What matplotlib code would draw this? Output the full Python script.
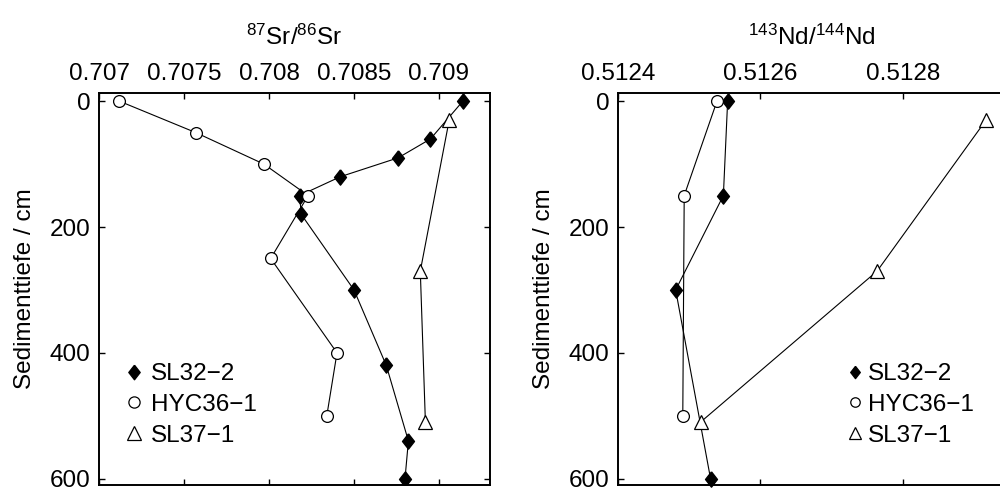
import matplotlib
matplotlib.use("Agg")
import matplotlib.pyplot as plt
from matplotlib.lines import Line2D
import numpy as np

plt.rcParams['font.family'] = ['Liberation Sans', 'DejaVu Sans']
plt.rcParams['mathtext.fontset'] = 'custom'
plt.rcParams['mathtext.rm'] = 'Liberation Sans'
plt.rcParams['mathtext.it'] = 'Liberation Sans'

# ---- data ----
series_names = ["SL32\u22122", "HYC36\u22121", "SL37\u22121"]

sl32_sr_depth = [0, 60, 90, 120, 150, 180, 300, 420, 540, 600]
sl32_sr = [0.70914, 0.70895, 0.70876, 0.70842, 0.70818, 0.70819, 0.70850, 0.70869, 0.70882, 0.70880]

hyc36_sr_depth = [0, 50, 100, 150, 250, 400, 500]
hyc36_sr = [0.70712, 0.70757, 0.70797, 0.70823, 0.70801, 0.70840, 0.70834]

sl37_sr_depth = [30, 270, 510]
sl37_sr = [0.70906, 0.70889, 0.70892]

sl32_nd_depth = [0, 150, 300, 600]
sl32_nd = [0.512554, 0.512548, 0.512481, 0.512530]

hyc36_nd_depth = [0, 150, 500]
hyc36_nd = [0.512539, 0.512493, 0.512491]

sl37_nd_depth = [30, 270, 510]
sl37_nd = [0.512917, 0.512764, 0.512516]

sr_ticks = [0.707, 0.7075, 0.708, 0.7085, 0.709]
sr_ticklabels = ["0.707", "0.7075", "0.708", "0.7085", "0.709"]
nd_ticks = [0.5124, 0.5126, 0.5128]
nd_ticklabels = ["0.5124", "0.5126", "0.5128"]
depth_ticks = [0, 200, 400, 600]

# ---- figure ----
W, H = 1000, 491
fig = plt.figure(figsize=(W / 100, H / 100), dpi=100)

def px_axes(x0, x1, y0, y1):
    return fig.add_axes([x0 / W, (H - y1) / H, (x1 - x0) / W, (y1 - y0) / H])

FS = 17.5
diamond = [(0, 1), (0.78, 0), (0, -1), (-0.78, 0), (0, 1)]
styles = [
    dict(marker=diamond, markersize=11, markerfacecolor='black', markeredgecolor='black'),
    dict(marker='o', markersize=8.5, markerfacecolor='white', markeredgecolor='black', markeredgewidth=0.9),
    dict(marker='^', markersize=10, markerfacecolor='white', markeredgecolor='black', markeredgewidth=0.9),
]

def style_axes(ax, xticks, xticklabels, xlim, title):
    ax.set_xlim(*xlim)
    ax.set_ylim(610, -13)
    ax.set_xticks(xticks)
    ax.set_xticklabels(xticklabels)
    ax.set_yticks(depth_ticks)
    ax.tick_params(axis='both', direction='in', length=4, width=1, labelsize=FS,
                   top=True, bottom=True, left=True, right=True,
                   labeltop=True, labelbottom=False, pad=6)
    for s in ax.spines.values():
        s.set_linewidth(1.4)
    ax.set_ylabel("Sedimenttiefe / cm", fontsize=FS, labelpad=10)
    ax.text(0.5, 1.122, title, transform=ax.transAxes, ha='center', va='baseline', fontsize=FS)

# left: Sr
ax1 = px_axes(99, 490, 93, 485)
sr_data = [(sl32_sr, sl32_sr_depth), (hyc36_sr, hyc36_sr_depth), (sl37_sr, sl37_sr_depth)]
for (xv, dv), st in zip(sr_data, styles):
    ax1.plot(xv, dv, color='black', linewidth=0.8, **st)
style_axes(ax1, sr_ticks, sr_ticklabels, (0.707, 0.7093), r'$^{87}$Sr/$^{86}$Sr')

# right: Nd
ax2 = px_axes(618, 1006, 93, 485)
nd_data = [(sl32_nd, sl32_nd_depth), (hyc36_nd, hyc36_nd_depth), (sl37_nd, sl37_nd_depth)]
for (xv, dv), st in zip(nd_data, styles):
    ax2.plot(xv, dv, color='black', linewidth=0.8, clip_on=False, **st)
style_axes(ax2, nd_ticks, nd_ticklabels, (0.5124, 0.512945), r'$^{143}$Nd/$^{144}$Nd')

def legend_handles(scale=1.0):
    hs = []
    for st in styles:
        st2 = dict(st)
        st2['markersize'] = st['markersize'] * scale
        hs.append(Line2D([], [], linestyle='none', **st2))
    return hs

ax1.legend(legend_handles(0.95), series_names, loc='lower left', bbox_to_anchor=(0.065, 0.098),
           frameon=False, fontsize=FS, handlelength=0.8, handletextpad=0.3,
           labelspacing=0.36, borderpad=0, borderaxespad=0)
ax2.legend(legend_handles(0.8), series_names, loc='lower left', bbox_to_anchor=(0.593, 0.098),
           frameon=False, fontsize=FS, handlelength=0.6, handletextpad=0.2,
           labelspacing=0.36, borderpad=0, borderaxespad=0)

fig.savefig("out.png", dpi=100)
